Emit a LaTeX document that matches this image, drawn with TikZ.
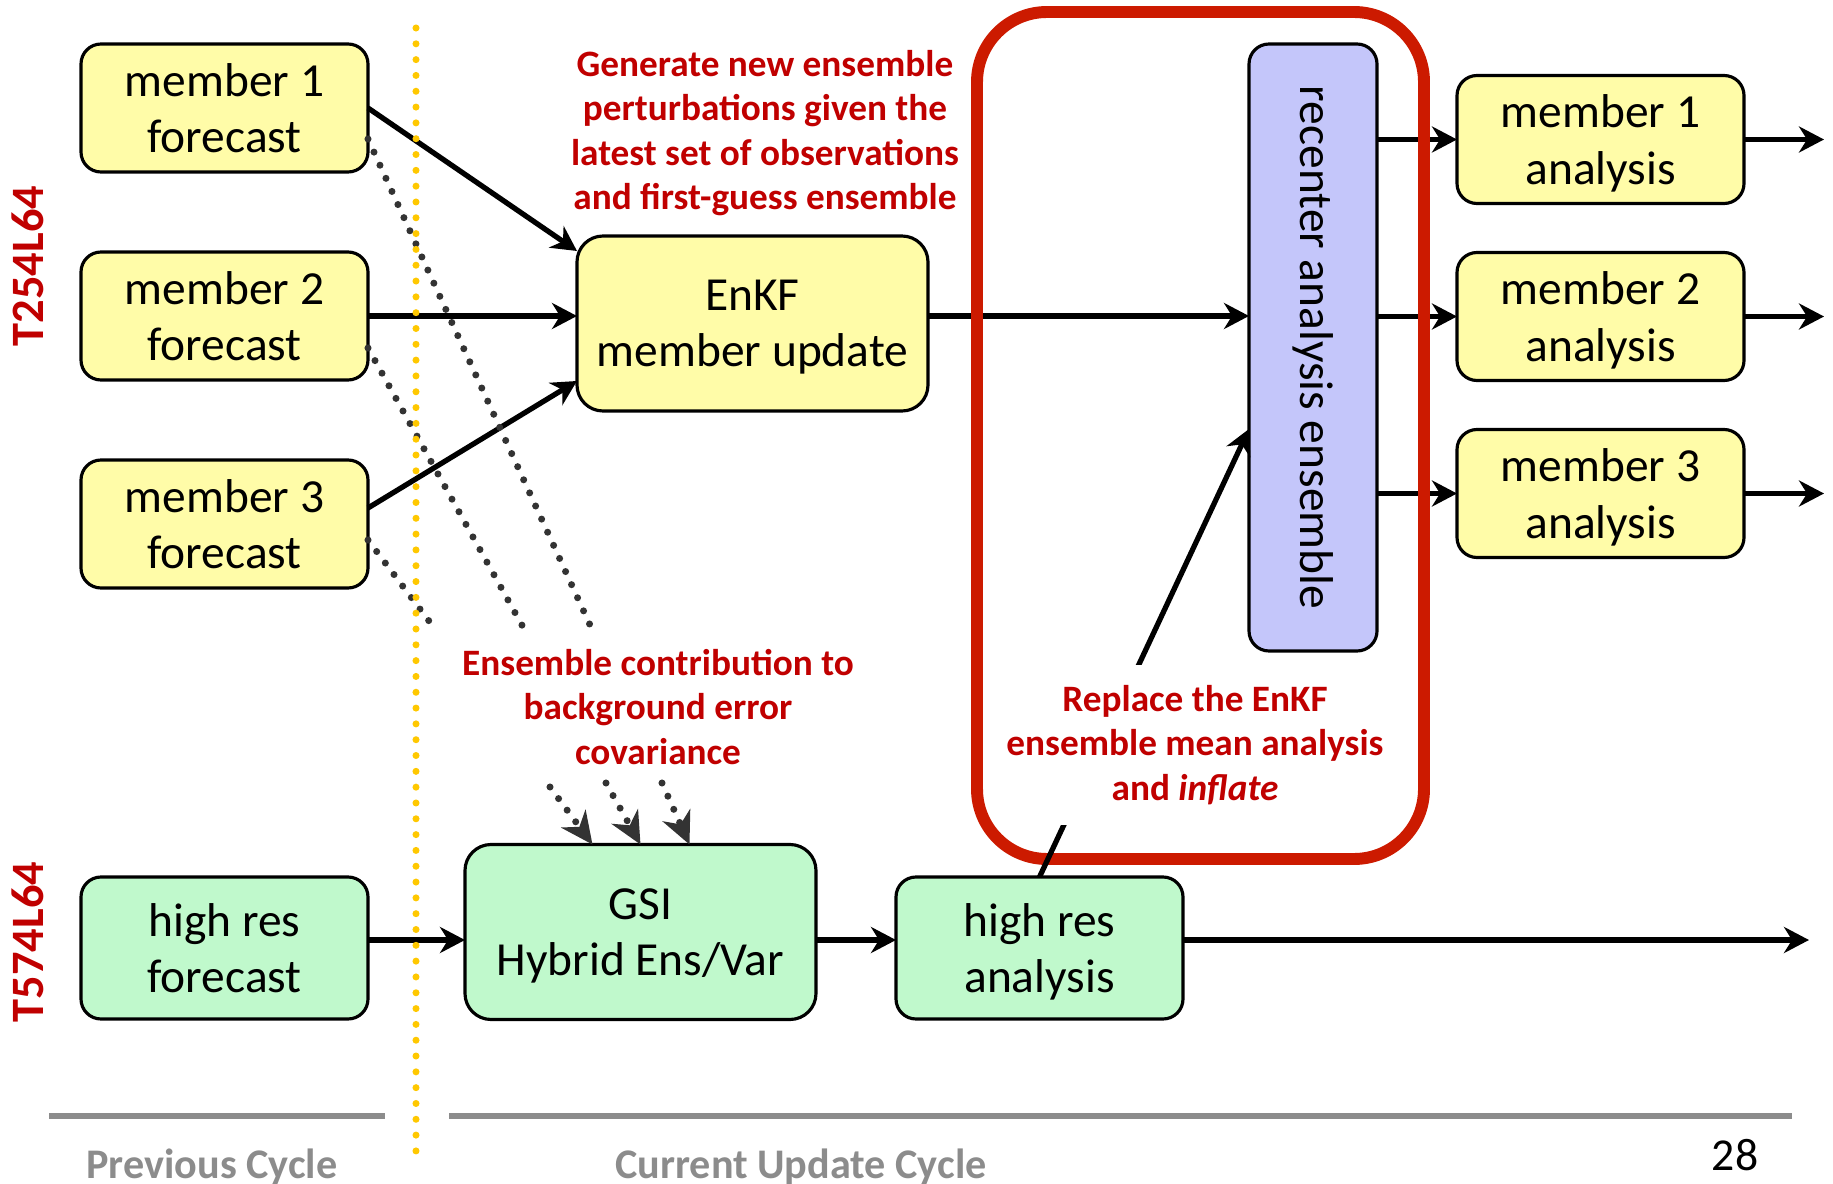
\documentclass[tikz,border=0pt]{standalone}
\usepackage{fontspec}
\setmainfont{Carlito}
\usetikzlibrary{calc,arrows.meta,positioning}
\definecolor{fcyellow}{RGB}{255,252,168}
\definecolor{hrgreen}{RGB}{192,249,204}
\definecolor{recblue}{RGB}{196,198,250}
\definecolor{framered}{RGB}{204,26,0}
\definecolor{notered}{RGB}{192,0,0}
\definecolor{dotgray}{RGB}{51,51,51}
\definecolor{cyclegray}{RGB}{140,140,140}
\definecolor{cutgold}{RGB}{255,200,0}
\tikzset{
  block/.style={draw=black, line width=0.9pt, rounded corners=0.2cm, align=center,
    inner sep=2pt, outer sep=0pt, text depth=0pt, font=\fontsize{13.5}{16}\selectfont},
  memblock/.style={block, fill=fcyellow, minimum width=2.87cm, minimum height=1.28cm},
  hiresblock/.style={block, fill=hrgreen, minimum width=2.87cm, minimum height=1.42cm},
  bigblock/.style={block, rounded corners=0.26cm, text depth=-2.5pt, minimum width=3.51cm, minimum height=1.75cm},
  recblock/.style={block, fill=recblue, text depth={}, minimum width=1.28cm, minimum height=6.07cm},
  arr/.style={-{Stealth[length=0.25cm,width=0.26cm,inset=0.08cm]}, line width=1.5pt},
  ensarr/.style={draw=dotgray, line width=2pt, line cap=round, dash pattern=on 0pt off 4.1pt},
  ensarrtip/.style={ensarr, -{Stealth[length=0.32cm,width=0.3cm,inset=0.1cm]}},
  note/.style={text=notered, font=\bfseries\fontsize{10.6}{12.6}\selectfont, align=center},
  reslabel/.style={text=notered, font=\bfseries\fontsize{13.2}{14}\selectfont, rotate=90},
  cyclelabel/.style={text=cyclegray, font=\bfseries\fontsize{12}{14}\selectfont, anchor=base},
  cycleline/.style={draw=cyclegray, line width=1.7pt},
  redframe/.style={draw=framered, line width=3.4pt, rounded corners=0.7cm},
  cutline/.style={draw=cutgold, line width=2pt, line cap=round, dash pattern=on 0pt off 4.5pt}
}
\begin{document}
\begin{tikzpicture}
  \useasboundingbox (0,0) rectangle (18.33,-11.84);

  % ---- forecasts of the previous cycle ----
  \node[memblock] (f1) at (2.245,-1.08) {member 1\\forecast};
  \node[memblock, below=0.8cm of f1] (f2) {member 2\\forecast};
  \node[memblock, below=0.8cm of f2] (f3) {member 3\\forecast};
  \node[hiresblock, below=2.89cm of f3] (hrf) {high res\\forecast};

  \node[reslabel] (lowres) at (0.28,-2.66) {T254L64};
  \node[reslabel] (highres) at (0.28,-9.42) {T574L64};

  % ---- current update cycle ----
  \node[bigblock, fill=fcyellow] (enkf) at (7.525,-3.235) {EnKF\\member update};
  \node[bigblock, fill=hrgreen, right=0.97cm of hrf, yshift=0.16cm] (gsi) {GSI\\Hybrid Ens/Var};
  \node[hiresblock, right=0.8cm of gsi, yshift=-0.16cm] (hra) {high res\\analysis};

  \node[recblock] (rec) at (13.13,-3.475) {\rotatebox{-90}{recenter analysis ensemble}};

  \node[memblock] (a1) at (16.005,-1.395) {member 1\\analysis};
  \node[memblock, below=0.49cm of a1] (a2) {member 2\\analysis};
  \node[memblock, below=0.49cm of a2] (a3) {member 3\\analysis};

  \node[note] (gen) at (7.65,-1.33)
    {Generate new ensemble\\perturbations given the\\latest set of observations\\and first-guess ensemble};
  \node[note] (contrib) at (6.58,-7.07) {Ensemble contribution to\\background error\\covariance};

  % ---- ensemble into the EnKF ----
  \draw[arr] (f1.east) -- ($(enkf.north west)+(0,-0.15)$);
  \draw[arr] (f2.east) -- (f2.east -| enkf.west);
  \draw[arr] ($(f3.east)+(0,0.16)$) -- ($(enkf.south west)+(0,0.30)$);

  % ---- ensemble into the GSI (dotted) ----
  \coordinate (d1) at (5.90,-6.25);
  \coordinate (d2) at (5.23,-6.27);
  \coordinate (d3) at (4.32,-6.25);
  \draw[ensarr] ($(f1.east)+(0,-0.31)$) -- (d1);
  \draw[ensarr] ($(f2.east)+(0,-0.32)$) -- (d2);
  \draw[ensarr] ($(f3.east)+(0,-0.16)$) -- (d3);

  \coordinate (e1) at (5.50,-7.87);
  \coordinate (e2) at (6.06,-7.83);
  \coordinate (e3) at (6.62,-7.83);
  \draw[ensarrtip] (e1) -- ($(gsi.north)+(-0.48,0)$);
  \draw[ensarrtip] (e2) -- (gsi.north);
  \draw[ensarrtip] (e3) -- ($(gsi.north)+(0.49,0)$);

  % ---- high res chain ----
  \coordinate[right=6.26cm of hra.east] (hraout);
  \draw[arr] ($(hrf.east)+(0,0.08)$) -- ($(hrf.east -| gsi.west)+(0,0.08)$);
  \draw[arr] ($(hra.west -| gsi.east)+(0,0.08)$) -- ($(hra.west)+(0,0.08)$);
  \draw[arr] ($(hra.east)+(0,0.08)$) -- ($(hraout)+(0,0.08)$);

  % ---- recentering ----
  \draw[arr] (enkf.east |- f2.east) -- (rec.west |- f2.east);
  \coordinate[right=0.8cm of a1.east] (a1out);
  \coordinate[right=0.8cm of a2.east] (a2out);
  \coordinate[right=0.8cm of a3.east] (a3out);
  \draw[arr] (rec.east |- a1.west) -- (a1.west);
  \draw[arr] (rec.east |- a2.west) -- (a2.west);
  \draw[arr] (rec.east |- a3.west) -- (a3.west);
  \draw[arr] (a1.east) -- (a1out);
  \draw[arr] (a2.east) -- (a2out);
  \draw[arr] (a3.east) -- (a3out);

  \node[redframe, minimum width=4.47cm, minimum height=8.47cm] (frame) at (12.005,-4.355) {};

  \draw[arr] (hra.north) -- ($(rec.west)+(0,-0.815)$);
  \node[note, fill=white, inner xsep=2pt, inner ysep=0.2cm] (replace) at (11.95,-7.45)
    {Replace the EnKF\\ensemble mean analysis\\and \textit{inflate}};

  % ---- cycle boundary ----
  \draw[cutline] (4.16,-0.28) -- (4.16,-11.53);
  \draw[cycleline] (0.49,-11.16) -- (3.85,-11.16);
  \draw[cycleline] (4.49,-11.16) -- (17.92,-11.16);
  \node[cyclelabel] (prev) at (2.12,-11.78) {Previous Cycle};
  \node[cyclelabel] (curr) at (8.01,-11.78) {Current Update Cycle};
  \node[anchor=base, font=\fontsize{13}{15}\selectfont] (page) at (17.35,-11.70) {28};

\end{tikzpicture}
\end{document}
